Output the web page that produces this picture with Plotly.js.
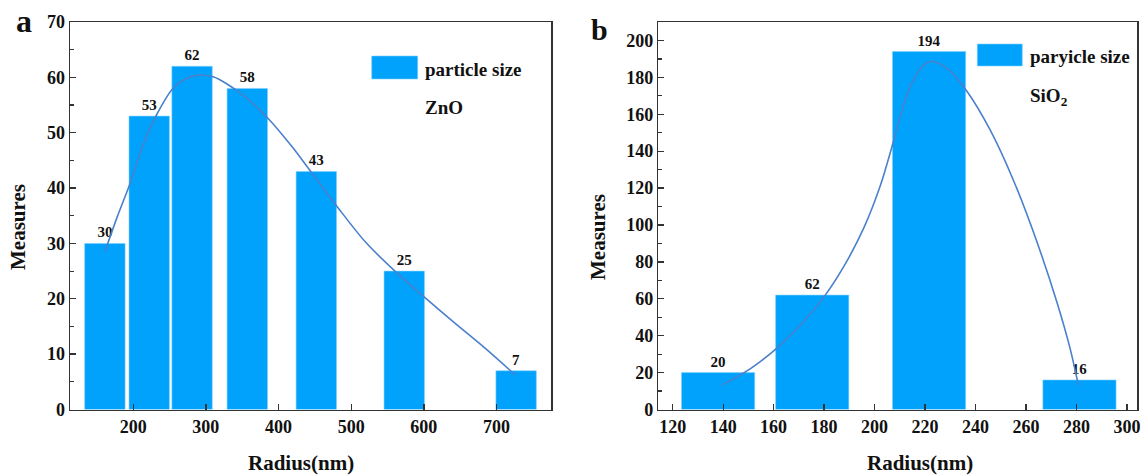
<!DOCTYPE html>
<html>
<head>
<meta charset="utf-8">
<script src="https://cdn.plot.ly/plotly-3.0.1.min.js"></script>
<style>html,body{margin:0;padding:0;background:#fff;}#chart{width:1143px;height:475px;}</style>
</head>
<body>
<div id="chart"></div>
<script>
// ---- Panel a: ZnO ----
const znoRadius = [161, 222, 281, 357, 452, 573, 727];
const znoCounts = [30, 53, 62, 58, 43, 25, 7];
const znoFitX = [161, 178, 195, 213.5, 232, 254.6, 273, 291, 310, 328, 355, 387, 419, 442, 481, 520, 561, 598, 639, 685, 726];
const znoFitY = [28.5, 34.8, 40.6, 47.8, 53.2, 58.0, 59.8, 60.4, 60.1, 58.9, 56.4, 52.4, 47.4, 43.4, 36.6, 30.2, 24.9, 20.6, 16.0, 11.0, 6.2];

// ---- Panel b: SiO2 ----
const sioRadius = [138, 175.3, 221.6, 281.2];
const sioCounts = [20, 62, 194, 16];
const sioFitX = [139.4, 150.7, 160.6, 170.5, 179.7, 187.6, 195.6, 202.2, 206.8, 209.5, 214.1, 219.4, 222.7, 228.6, 236.6, 245.8, 255.1, 264.3, 272.3, 277.5, 280.8];
const sioFitY = [13.2, 22.0, 32.5, 45.5, 60.5, 77.0, 98.0, 121.0, 142.0, 155.5, 175.0, 186.5, 188.6, 185.0, 172.5, 151.5, 124.0, 91.0, 58.0, 33.0, 13.0];

const legendA = "particle size";
const legendB = "paryicle size";
const sampleA = "ZnO";
const sampleB = "SiO<sub>2</sub>";

const BAR = "#00A2FC";
const LINE = "#4A80CC";
const FONT = "Liberation Serif, Times New Roman, serif";

const traces = [
  {type:"bar", x:znoRadius, y:znoCounts, width:55.6, xaxis:"x", yaxis:"y",
   marker:{color:BAR, line:{color:"#7fd0ff", width:0.6}},
   text:znoCounts.map(String), textposition:"outside", cliponaxis:false, constraintext:"none",
   textfont:{family:FONT, size:15, color:"#111", weight:"bold"}, showlegend:false, hoverinfo:"x+y"},
  {type:"scatter", mode:"lines", x:znoFitX, y:znoFitY, xaxis:"x", yaxis:"y",
   line:{color:LINE, width:1.6, shape:"spline", smoothing:0.9}, showlegend:false},
  {type:"bar", x:sioRadius, y:sioCounts, width:29, xaxis:"x2", yaxis:"y2",
   marker:{color:BAR, line:{color:"#7fd0ff", width:0.6}},
   text:sioCounts.map(String), textposition:"outside", cliponaxis:false, constraintext:"none",
   textfont:{family:FONT, size:15, color:"#111", weight:"bold"}, showlegend:false, hoverinfo:"x+y"},
  {type:"scatter", mode:"lines", x:sioFitX, y:sioFitY, xaxis:"x2", yaxis:"y2",
   line:{color:LINE, width:1.6, shape:"spline", smoothing:0.9}, showlegend:false}
];

const W = 1143, H = 475;
const px = v => v / W, py = v => 1 - v / H;
const tickfont = {family:FONT, size:18, color:"#111", weight:"bold"};
const axisCommon = {showline:true, linecolor:"#333", linewidth:1.5, mirror:true, ticks:"inside",
  ticklen:6, tickwidth:1.3, tickcolor:"#333", showgrid:false, zeroline:false, tickfont:tickfont};

const layout = {
  width:W, height:H, margin:{l:0, r:0, t:0, b:0},
  paper_bgcolor:"#fff", plot_bgcolor:"#fff", bargap:0,
  xaxis:Object.assign({}, axisCommon, {domain:[px(70), px(551)], range:[113, 775], dtick:100, tick0:0, anchor:"y"}),
  yaxis:Object.assign({}, axisCommon, {domain:[py(409.5), py(22)], range:[0, 70], dtick:10, anchor:"x",
    minor:{dtick:5, ticks:"inside", ticklen:3.5, tickcolor:"#333", tickwidth:1.2}}),
  xaxis2:Object.assign({}, axisCommon, {domain:[px(658.3), px(1137)], range:[114.3, 304], dtick:20, tick0:0, anchor:"y2"}),
  yaxis2:Object.assign({}, axisCommon, {domain:[py(409.5), py(22)], range:[0, 210], dtick:20, anchor:"x2",
    minor:{dtick:10, ticks:"inside", ticklen:3.5, tickcolor:"#333", tickwidth:1.2}}),
  shapes:[
    {type:"rect", xref:"paper", yref:"paper", x0:px(371.7), x1:px(417.7), y0:py(79), y1:py(56), fillcolor:BAR, line:{color:"#7fd0ff", width:0.6}},
    {type:"rect", xref:"paper", yref:"paper", x0:px(977.3), x1:px(1022.3), y0:py(66), y1:py(44), fillcolor:BAR, line:{color:"#7fd0ff", width:0.6}}
  ],
  annotations:[
    {xref:"paper", yref:"paper", x:px(423), y:py(69), xanchor:"left", yanchor:"middle", showarrow:false, text:legendA, font:{family:FONT, size:19, color:"#111", weight:"bold"}},
    {xref:"paper", yref:"paper", x:px(423), y:py(107), xanchor:"left", yanchor:"middle", showarrow:false, text:sampleA, font:{family:FONT, size:19, color:"#111", weight:"bold"}},
    {xref:"paper", yref:"paper", x:px(1028), y:py(56.5), xanchor:"left", yanchor:"middle", showarrow:false, text:legendB, font:{family:FONT, size:19, color:"#111", weight:"bold"}},
    {xref:"paper", yref:"paper", x:px(1028), y:py(97), xanchor:"left", yanchor:"middle", showarrow:false, text:sampleB, font:{family:FONT, size:19, color:"#111", weight:"bold"}},
    {xref:"paper", yref:"paper", x:px(301), y:py(463), xanchor:"center", yanchor:"middle", showarrow:false, text:"Radius(nm)", font:{family:FONT, size:21, color:"#111", weight:"bold"}},
    {xref:"paper", yref:"paper", x:px(920), y:py(463), xanchor:"center", yanchor:"middle", showarrow:false, text:"Radius(nm)", font:{family:FONT, size:21, color:"#111", weight:"bold"}},
    {xref:"paper", yref:"paper", x:px(18), y:py(227), xanchor:"center", yanchor:"middle", showarrow:false, textangle:-90, text:"Measures", font:{family:FONT, size:21, color:"#111", weight:"bold"}},
    {xref:"paper", yref:"paper", x:px(598), y:py(237), xanchor:"center", yanchor:"middle", showarrow:false, textangle:-90, text:"Measures", font:{family:FONT, size:21, color:"#111", weight:"bold"}},
    {xref:"paper", yref:"paper", x:px(24), y:py(21), xanchor:"center", yanchor:"middle", showarrow:false, text:"a", font:{family:FONT, size:32, color:"#111", weight:"bold"}},
    {xref:"paper", yref:"paper", x:px(599), y:py(30), xanchor:"center", yanchor:"middle", showarrow:false, text:"b", font:{family:FONT, size:30, color:"#111", weight:"bold"}}
  ]
};

Plotly.newPlot("chart", traces, layout, {staticPlot:true, displayModeBar:false});
</script>
</body>
</html>
